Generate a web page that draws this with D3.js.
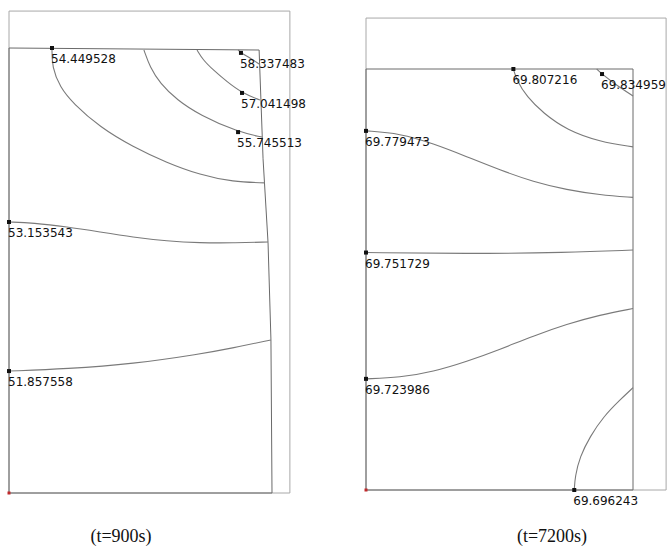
<!DOCTYPE html>
<html>
<head>
<meta charset="utf-8">
<script src="https://cdn.jsdelivr.net/npm/d3@7"></script>
<style>
  html, body { margin: 0; padding: 0; background: #fff; }
  svg { display: block; }
</style>
</head>
<body>
<svg id="chart" width="671" height="547"></svg>
<script>
// ---------------- DATA (model units: x 0..100 across, y 0..100 bottom->top) ----------------
const captions = ["(t=900s)", "(t=7200s)"];

// t = 900 s
const levels900 = ["54.449528", "55.745513", "57.041498", "58.337483", "53.153543", "51.857558"];
const isolines900 = [
  [[16.35,100],[16.35,95.7],[19.4,91.2],[24.3,87.6],[34.6,82.2],[47.1,77.8],[60.1,74.2],[72.6,71.5],[85.2,69.9],[97.3,69.7]],
  [[51.3,99.55],[53.6,95.7],[57.4,92.1],[63.9,88.3],[72.6,84.9],[87.1,81.1],[96.2,80.0]],
  [[71.5,99.55],[73.8,97.3],[77.6,95.1],[82.9,92.4],[88.6,89.9],[95.4,88.3]],
  [[87.1,99.55],[88.2,98.9],[91.6,97.8],[95.1,96.4]],
  [[0,60.9],[9.1,60.7],[22.1,59.8],[34.6,58.65],[47.1,57.5],[60.1,56.6],[72.6,56.2],[85.2,56.2],[98.5,56.4]],
  [[0,27.4],[22.1,27.9],[47.1,29.0],[72.6,31.2],[85.2,32.6],[99.6,34.4]]
];
const markers900 = [[16.35,100],[87.1,81.1],[88.6,89.9],[88.2,98.9],[0,60.9],[0,27.4]];
const boundary900 = [[0,0],[0,100],[95.1,99.55],[96.6,75.1],[98.5,56.2],[99.6,34.4],[100,0]];
const frame900 = [[0,0],[0,108.3],[106.8,108.3],[106.8,0]];

// t = 7200 s
const levels7200 = ["69.807216", "69.834959", "69.779473", "69.751729", "69.723986", "69.696243"];
const isolines7200 = [
  [[55.2,100],[56.4,97.4],[60.2,93.4],[66.4,89.5],[75.2,85.5],[87.6,82.7],[100,81.5]],
  [[86.4,100],[88.4,98.8],[93.3,96.4],[100,93.6]],
  [[0,85.3],[12.7,84.7],[25.2,82.3],[37.7,79.2],[50.2,76.0],[62.7,73.2],[75.2,71.3],[87.6,70.1],[100,69.5]],
  [[0,56.4],[37.7,56.1],[75.2,56.4],[100,57.0]],
  [[0,26.4],[12.7,26.7],[25.2,28.1],[37.7,30.5],[50.2,33.4],[62.7,36.6],[75.2,39.4],[87.6,41.6],[100,43.1]],
  [[78.0,0],[78.3,3.2],[80.1,7.9],[83.9,12.7],[88.9,17.4],[95.1,21.4],[100,24.3]]
];
const markers7200 = [[55.2,100],[88.4,98.8],[0,85.3],[0,56.4],[0,26.4],[78.0,0]];
const boundary7200 = [[0,0],[0,100],[100,100],[100,0]];
const frame7200 = [[0,0],[0,112.1],[112.4,112.1],[112.4,0]];

// ---------------- LAYOUT ----------------
const panels = [
  { caption: captions[0], levels: levels900, lines: isolines900, markers: markers900,
    boundary: boundary900, frame: frame900,
    xRange: [9, 272], yRange: [493, 48], capX: 121 },
  { caption: captions[1], levels: levels7200, lines: isolines7200, markers: markers7200,
    boundary: boundary7200, frame: frame7200,
    xRange: [366, 633], yRange: [490, 69], capX: 552 }
];

const svg = d3.select("#chart");

panels.forEach(p => {
  const x = d3.scaleLinear().domain([0, 100]).range(p.xRange);
  const y = d3.scaleLinear().domain([0, 100]).range(p.yRange);
  const g = svg.append("g");

  const poly = d3.line().x(d => x(d[0])).y(d => y(d[1]));
  const curve = d3.line().x(d => x(d[0])).y(d => y(d[1])).curve(d3.curveBasis);

  // outer frame
  g.append("path")
    .attr("d", poly(p.frame) + "Z")
    .attr("fill", "none")
    .attr("stroke", "#a8a8a8")
    .attr("stroke-width", 1);

  // inner (deformed) domain
  g.append("path")
    .attr("d", poly(p.boundary) + "Z")
    .attr("fill", "none")
    .attr("stroke", "#6a6a6a")
    .attr("stroke-width", 1);

  // isolines
  g.selectAll("path.iso").data(p.lines).join("path")
    .attr("class", "iso")
    .attr("d", d => curve(d))
    .attr("fill", "none")
    .attr("stroke", "#7a7a7a")
    .attr("stroke-width", 1.1);

  // origin point
  g.append("rect")
    .attr("x", x(0) - 1.5).attr("y", y(0) - 1.5)
    .attr("width", 3).attr("height", 3)
    .attr("fill", "#c0282a");

  // label markers
  g.selectAll("rect.mk").data(p.markers).join("rect")
    .attr("class", "mk")
    .attr("x", d => x(d[0]) - 2).attr("y", d => y(d[1]) - 2)
    .attr("width", 4).attr("height", 4)
    .attr("fill", "#111");

  // labels
  g.selectAll("text.lb").data(p.markers).join("text")
    .attr("class", "lb")
    .attr("x", d => x(d[0]) - 1)
    .attr("y", d => y(d[1]) + 15)
    .attr("font-family", "'DejaVu Sans', Verdana, sans-serif")
    .attr("font-size", 12)
    .attr("fill", "#111")
    .text((d, i) => p.levels[i]);

  // caption
  svg.append("text")
    .attr("x", p.capX)
    .attr("y", 542)
    .attr("text-anchor", "middle")
    .attr("font-family", "'Liberation Serif', 'Times New Roman', serif")
    .attr("font-size", 18)
    .attr("fill", "#111")
    .text(p.caption);
});
</script>
</body>
</html>
